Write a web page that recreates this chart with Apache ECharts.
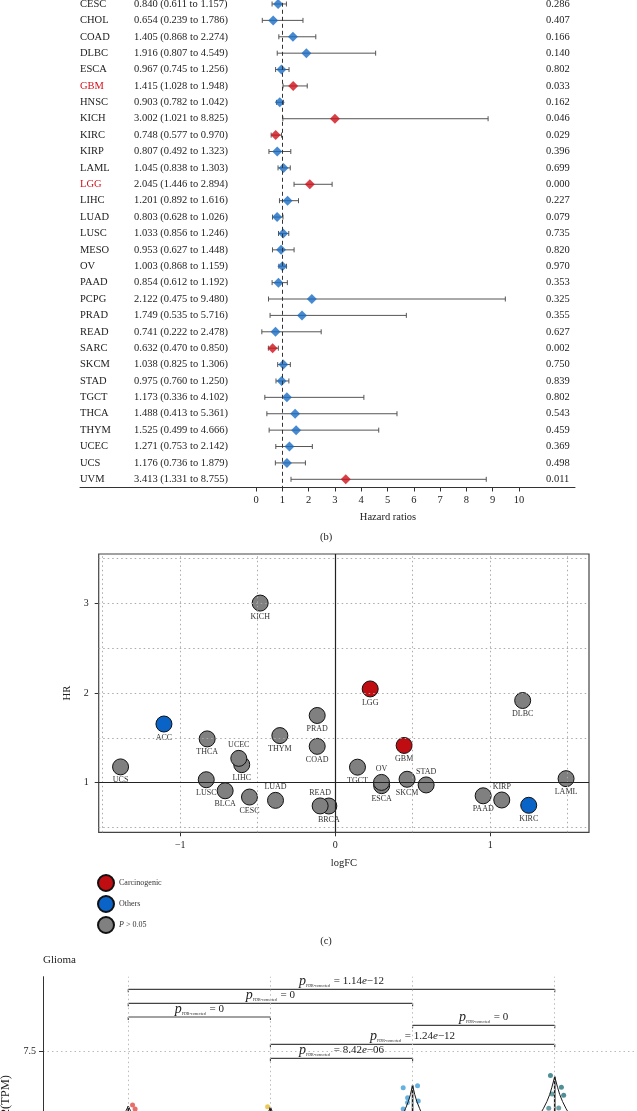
<!DOCTYPE html>
<html>
<head>
<meta charset="utf-8">
<script src="https://cdn.jsdelivr.net/npm/echarts@6.0.0/dist/echarts.min.js"></script>
<style>
html, body { margin: 0; padding: 0; background: #fff; }
#main { width: 637px; height: 1111px; }
</style>
</head>
<body>
<div id="main"></div>
<script>
// ---- (b) forest plot ----
var cancers = ['CESC', 'CHOL', 'COAD', 'DLBC', 'ESCA', 'GBM', 'HNSC', 'KICH', 'KIRC', 'KIRP',
	'LAML', 'LGG', 'LIHC', 'LUAD', 'LUSC', 'MESO', 'OV', 'PAAD', 'PCPG', 'PRAD',
	'READ', 'SARC', 'SKCM', 'STAD', 'TGCT', 'THCA', 'THYM', 'UCEC', 'UCS', 'UVM'];
var hr = [0.840, 0.654, 1.405, 1.916, 0.967, 1.415, 0.903, 3.002, 0.748, 0.807,
	1.045, 2.045, 1.201, 0.803, 1.033, 0.953, 1.003, 0.854, 2.122, 1.749,
	0.741, 0.632, 1.038, 0.975, 1.173, 1.488, 1.525, 1.271, 1.176, 3.413];
var hrLow = [0.611, 0.239, 0.868, 0.807, 0.745, 1.028, 0.782, 1.021, 0.577, 0.492,
	0.838, 1.446, 0.892, 0.628, 0.856, 0.627, 0.868, 0.612, 0.475, 0.535,
	0.222, 0.470, 0.825, 0.760, 0.336, 0.413, 0.499, 0.753, 0.736, 1.331];
var hrHigh = [1.157, 1.786, 2.274, 4.549, 1.256, 1.948, 1.042, 8.825, 0.970, 1.323,
	1.303, 2.894, 1.616, 1.026, 1.246, 1.448, 1.159, 1.192, 9.480, 5.716,
	2.478, 0.850, 1.306, 1.250, 4.102, 5.361, 4.666, 2.142, 1.879, 8.755];
var pValues = [0.286, 0.407, 0.166, 0.140, 0.802, 0.033, 0.162, 0.046, 0.029, 0.396,
	0.699, 0.000, 0.227, 0.079, 0.735, 0.820, 0.970, 0.353, 0.325, 0.355,
	0.627, 0.002, 0.750, 0.839, 0.802, 0.543, 0.459, 0.369, 0.498, 0.011];
var redLabels = ['GBM', 'LGG'];
var hrTicks = [0, 1, 2, 3, 4, 5, 6, 7, 8, 9, 10];

// ---- (c) logFC vs HR ----
var scNames = ['ACC', 'BLCA', 'BRCA', 'CESC', 'COAD', 'DLBC', 'ESCA', 'GBM', 'KICH', 'KIRC',
	'KIRP', 'LAML', 'LGG', 'LIHC', 'LUAD', 'LUSC', 'OV', 'PAAD', 'PRAD', 'READ',
	'SKCM', 'STAD', 'TGCT', 'THCA', 'THYM', 'UCEC', 'UCS'];
var scLogFC = [-1.105, -0.71, -0.041, -0.553, -0.116, 1.21, 0.30, 0.445, -0.484, 1.249,
	1.075, 1.49, 0.226, -0.603, -0.385, -0.832, 0.299, 0.955, -0.116, -0.097,
	0.464, 0.587, 0.144, -0.826, -0.357, -0.622, -1.385];
var scHR = [1.654, 0.91, 0.74, 0.840, 1.405, 1.916, 0.967, 1.415, 3.002, 0.748,
	0.807, 1.045, 2.045, 1.201, 0.803, 1.033, 1.003, 0.854, 1.749, 0.741,
	1.038, 0.975, 1.173, 1.488, 1.525, 1.271, 1.176];
var scGroup = ['Others', 'ns', 'ns', 'ns', 'ns', 'ns', 'ns', 'Carcinogenic', 'ns', 'Others',
	'ns', 'ns', 'Carcinogenic', 'ns', 'ns', 'ns', 'ns', 'ns', 'ns', 'ns',
	'ns', 'ns', 'ns', 'ns', 'ns', 'ns', 'ns'];
var labelsAbove = ['UCEC', 'LUAD', 'READ', 'OV', 'STAD', 'KIRP'];
var logfcTicks = [-1, 0, 1];
var hrAxisTicks = [1, 2, 3];
var gridX = [-1.5, -1, -0.5, 0.5, 1, 1.5];
var gridY = [0.5, 1.5, 2, 2.5, 3, 3.5];

// ---- Glioma ----
var groupPos = [0, 1, 2, 3];
var groupColors = ['#e4554d', '#e9c13a', '#4ba3d9', '#2f7c84'];
var violinLevels = [
	[5.97, 5.85, 5.6, 5.3],
	[5.94, 5.8, 5.5, 5.2],
	[6.56, 6.3, 6.1, 5.9, 5.7, 5.5],
	[6.80, 6.5, 6.3, 6.1, 5.9, 5.7, 5.5]
];
var violinHalf = [
	[0, 0.015, 0.04, 0.08],
	[0, 0.015, 0.04, 0.08],
	[0, 0.015, 0.03, 0.05, 0.07, 0.1],
	[0, 0.02, 0.035, 0.055, 0.08, 0.11, 0.14]
];
var pointGroup = [0, 0, 1, 2, 2, 2, 2, 2, 2, 3, 3, 3, 3, 3, 3];
var pointJitter = [0.03, 0.048, -0.02, -0.066, 0.035, -0.035, 0.04, -0.035, -0.066, -0.03, 0.047, -0.018, 0.063, -0.042, 0.028];
var pointValue = [6.0, 5.89, 5.955, 6.49, 6.545, 6.21, 6.115, 6.07, 5.89, 6.83, 6.5, 6.31, 6.28, 5.91, 5.92];
var bracketFrom = [0, 0, 0, 2, 1, 1];
var bracketTo = [3, 2, 1, 3, 3, 2];
var bracketY = [9.253, 8.86, 8.475, 8.242, 7.708, 7.315];
var bracketP = ['1.14e-12', '0', '0', '0', '1.24e-12', '8.42e-06'];
var exprTicks = [2.5, 5, 7.5];

var serif = '"Liberation Serif", "DejaVu Serif", serif';
var RED = '#d0121b';
var BLUE = '#1a6dc4';
var GRAY = '#808080';

var chart = echarts.init( document.getElementById( 'main' ), null, {renderer: 'canvas'} );

var scatterSeries = function(groupName, color){
	var data = [];
	for( var i = 0; i < scNames.length; i++ ){
		if( scGroup[i] !== groupName ) continue;
		var above = labelsAbove.indexOf( scNames[i] ) >= 0;
		data.push( {
			name: scNames[i],
			value: [scLogFC[i], scHR[i]],
			label: {position: above ? 'top' : 'bottom'}
		} );
	}
	return {
		name: groupName === 'ns' ? 'P > 0.05' : groupName,
		type: 'scatter',
		xAxisIndex: 1,
		yAxisIndex: 2,
		symbolSize: 16,
		z: 3,
		itemStyle: {color: color, borderColor: '#111', borderWidth: 1, opacity: 1},
		label: {show: true, formatter: '{b}', fontSize: 8, fontFamily: serif, color: '#333', distance: 1},
		data: data
	};
};

var pRich = function(str){
	var parts = str.split( 'e' );
	var s = '{p|p}{s|FDR-corrected}{t| = ' + parts[0] + '}';
	if( parts.length > 1 ){
		s += '{i|e}{t|' + parts[1].replace( '-', '\u2212' ) + '}';
	}
	return s;
};

var option = {
	backgroundColor: '#fff',
	animation: false,
	title: [
		{text: 'Hazard ratios', left: 388, top: 512, textAlign: 'center', padding: 0,
			textStyle: {fontSize: 10.5, fontWeight: 'normal', fontFamily: serif, color: '#222'}},
		{text: '(b)', left: 326, top: 532, textAlign: 'center', padding: 0,
			textStyle: {fontSize: 10.5, fontWeight: 'normal', fontFamily: serif, color: '#222'}},
		{text: '(c)', left: 326, top: 936, textAlign: 'center', padding: 0,
			textStyle: {fontSize: 10.5, fontWeight: 'normal', fontFamily: serif, color: '#222'}},
		{text: 'Glioma', left: 43, top: 955, padding: 0,
			textStyle: {fontSize: 11, fontWeight: 'normal', fontFamily: serif, color: '#222'}}
	],
	legend: {
		data: ['Carcinogenic', 'Others', 'P > 0.05'],
		orient: 'vertical',
		left: 97,
		top: 874,
		padding: 0,
		itemWidth: 16,
		itemHeight: 16,
		itemGap: 3,
		icon: 'circle',
		formatter: function(name){
			return name === 'P > 0.05' ? '{i|P} > 0.05' : name;
		},
		textStyle: {fontSize: 8, fontFamily: serif, color: '#333',
			rich: {i: {fontStyle: 'italic', fontSize: 8, fontFamily: serif, color: '#333'}}}
	},
	grid: [
		{left: 80, right: 62, top: -4.2, height: 491.7, outerBoundsMode: 'none'},
		{left: 98.7, right: 48, top: 554, height: 278.3, show: true, borderColor: '#444', borderWidth: 1.2,
			backgroundColor: 'transparent', outerBoundsMode: 'none'},
		{left: 43, width: 597, top: 976.7, height: 253, outerBoundsMode: 'none'}
	],
	xAxis: [
		{
			gridIndex: 0, type: 'value', min: -6.692, max: 12.129,
			axisLine: {show: true, onZero: false, lineStyle: {color: '#333', width: 1}},
			axisTick: {show: true, customValues: hrTicks, length: 4, lineStyle: {color: '#333'}},
			axisLabel: {customValues: hrTicks, fontSize: 10.5, fontFamily: serif, color: '#222', margin: 7},
			splitLine: {show: false}
		},
		{
			gridIndex: 1, type: 'value', min: -1.526, max: 1.638,
			name: 'logFC', nameLocation: 'middle', nameGap: 25,
			nameTextStyle: {fontSize: 10.5, fontFamily: serif, color: '#222'},
			axisLine: {show: false, onZero: false},
			axisTick: {show: true, customValues: logfcTicks, length: 4, lineStyle: {color: '#333'}},
			axisLabel: {customValues: logfcTicks, fontSize: 10, fontFamily: serif, color: '#222', margin: 8,
				formatter: function(v){ return v < 0 ? '\u2212' + Math.abs( v ) : String( v ); }},
			splitLine: {show: false}
		},
		{
			gridIndex: 2, type: 'value', min: -0.6, max: 3.6,
			axisLine: {show: false, onZero: false},
			axisTick: {show: false},
			axisLabel: {show: false},
			splitLine: {show: false}
		}
	],
	yAxis: [
		{
			gridIndex: 0, type: 'category', data: cancers, inverse: true,
			axisLine: {show: false, onZero: false},
			axisTick: {show: false},
			axisLabel: {
				inside: true, margin: 0, interval: 0, align: 'left',
				formatter: function(v, i){
					var tag = redLabels.indexOf( v ) >= 0 ? 'r' : 'n';
					var txt = hr[i].toFixed( 3 ) + ' (' + hrLow[i].toFixed( 3 ) + ' to ' + hrHigh[i].toFixed( 3 ) + ')';
					return '{' + tag + '|' + v + '}{h|' + txt + '}';
				},
				rich: {
					n: {width: 54, fontSize: 10.5, fontFamily: serif, color: '#222'},
					r: {width: 54, fontSize: 10.5, fontFamily: serif, color: RED},
					h: {fontSize: 10.5, fontFamily: serif, color: '#222'}
				}
			},
			splitLine: {show: false}
		},
		{
			gridIndex: 0, type: 'category', position: 'right', inverse: true,
			data: pValues.map( function(p){ return p.toFixed( 3 ); } ),
			axisLine: {show: false, onZero: false},
			axisTick: {show: false},
			axisLabel: {inside: true, margin: 29, align: 'left', interval: 0,
				fontSize: 10.5, fontFamily: serif, color: '#222'},
			splitLine: {show: false}
		},
		{
			gridIndex: 1, type: 'value', min: 0.447, max: 3.549,
			name: 'HR', nameLocation: 'middle', nameGap: 21,
			nameTextStyle: {fontSize: 10.5, fontFamily: serif, color: '#222'},
			axisLine: {show: false, onZero: false},
			axisTick: {show: true, customValues: hrAxisTicks, length: 4, lineStyle: {color: '#333'}},
			axisLabel: {customValues: hrAxisTicks, fontSize: 10, fontFamily: serif, color: '#222', margin: 10},
			splitLine: {show: false}
		},
		{
			gridIndex: 2, type: 'value', min: 2.5, max: 9.607, interval: 1.25,
			name: 'log2(TPM)', nameLocation: 'middle', nameGap: 29,
			nameTextStyle: {fontSize: 12.5, fontFamily: serif, color: '#222'},
			axisLine: {show: true, onZero: false, lineStyle: {color: '#333', width: 1}},
			axisTick: {show: true, customValues: exprTicks, length: 4, lineStyle: {color: '#333'}},
			axisLabel: {customValues: exprTicks, fontSize: 10, fontFamily: serif, color: '#222', margin: 7},
			splitLine: {show: true, lineStyle: {color: '#bbb', type: [1.5, 3], width: 1}}
		}
	],
	series: [
		// forest: reference line at HR = 1
		{
			type: 'scatter', xAxisIndex: 0, yAxisIndex: 0, data: [], z: 1,
			markLine: {
				silent: true, symbol: 'none', label: {show: false},
				lineStyle: {color: '#333', type: [4, 3], width: 1},
				data: [{xAxis: 1}]
			}
		},
		// forest: confidence intervals
		{
			type: 'custom', xAxisIndex: 0, yAxisIndex: 0, z: 2,
			encode: {x: [0, 1], y: 2},
			data: cancers.map( function(c, i){ return [hrLow[i], hrHigh[i], i]; } ),
			renderItem: function(params, api){
				var lo = api.coord( [api.value( 0 ), api.value( 2 )] );
				var hi = api.coord( [api.value( 1 ), api.value( 2 )] );
				var h = 2.5;
				var st = {stroke: '#555', lineWidth: 1};
				return {type: 'group', children: [
					{type: 'line', shape: {x1: lo[0], y1: lo[1], x2: hi[0], y2: hi[1]}, style: st},
					{type: 'line', shape: {x1: lo[0], y1: lo[1] - h, x2: lo[0], y2: lo[1] + h}, style: st},
					{type: 'line', shape: {x1: hi[0], y1: hi[1] - h, x2: hi[0], y2: hi[1] + h}, style: st}
				]};
			}
		},
		// forest: hazard ratio diamonds
		{
			type: 'scatter', xAxisIndex: 0, yAxisIndex: 0, z: 3,
			symbol: 'diamond', symbolSize: 10,
			data: cancers.map( function(c, i){
				return {value: [hr[i], i], itemStyle: {color: pValues[i] < 0.05 ? RED : BLUE}};
			} )
		},
		// scatter: grid lines
		{
			type: 'scatter', xAxisIndex: 1, yAxisIndex: 2, data: [], z: 1,
			markLine: {
				silent: true, symbol: 'none', label: {show: false},
				lineStyle: {color: '#aaa', type: [1.5, 3], width: 1},
				data: gridX.map( function(v){ return {xAxis: v}; } )
					.concat( gridY.map( function(v){ return {yAxis: v}; } ) )
					.concat( [
						{xAxis: 0, lineStyle: {color: '#222', type: 'solid', width: 1.2}},
						{yAxis: 1, lineStyle: {color: '#222', type: 'solid', width: 1.2}}
					] )
			}
		},
		scatterSeries( 'ns', GRAY ),
		scatterSeries( 'Others', '#0a64c8' ),
		scatterSeries( 'Carcinogenic', '#c00d12' ),
		// glioma: vertical grid lines at groups
		{
			type: 'scatter', xAxisIndex: 2, yAxisIndex: 3, data: [], z: 1,
			markLine: {
				silent: true, symbol: 'none', label: {show: false},
				lineStyle: {color: '#bbb', type: [1.5, 3], width: 1},
				data: groupPos.map( function(v){ return {xAxis: v}; } )
			}
		},
		// glioma: violins
		{
			type: 'custom', xAxisIndex: 2, yAxisIndex: 3, z: 3,
			data: groupPos.map( function(g){ return [g, violinLevels[g][0]]; } ),
			renderItem: function(params, api){
				var g = params.dataIndex;
				var lv = violinLevels[g], hw = violinHalf[g];
				var right = [], left = [];
				for( var k = 0; k < lv.length; k++ ){
					right.push( api.coord( [g + hw[k], lv[k]] ) );
					left.push( api.coord( [g - hw[k], lv[k]] ) );
				}
				var pts = right.concat( left.reverse() );
				var top = api.coord( [g, lv[0]] );
				var bot = api.coord( [g, lv[lv.length - 1]] );
				return {type: 'group', children: [
					{type: 'polygon', shape: {points: pts}, style: {fill: 'rgba(255,255,255,0.15)', stroke: '#1a1a1a', lineWidth: 1}},
					{type: 'line', shape: {x1: top[0], y1: top[1], x2: bot[0], y2: bot[1]}, style: {stroke: '#1a1a1a', lineWidth: 1.6}}
				]};
			}
		},
		// glioma: jittered points
		{
			type: 'scatter', xAxisIndex: 2, yAxisIndex: 3, z: 2, symbolSize: 5,
			data: pointValue.map( function(v, i){
				return {value: [pointGroup[i] + pointJitter[i], v],
					itemStyle: {color: groupColors[pointGroup[i]], opacity: 0.85}};
			} )
		},
		// glioma: pairwise comparison brackets
		{
			type: 'custom', xAxisIndex: 2, yAxisIndex: 3, z: 4,
			encode: {x: [0, 1], y: 2},
			data: bracketY.map( function(y, i){ return [bracketFrom[i], bracketTo[i], y]; } ),
			renderItem: function(params, api){
				var a = api.coord( [api.value( 0 ), api.value( 2 )] );
				var b = api.coord( [api.value( 1 ), api.value( 2 )] );
				var st = {stroke: '#444', lineWidth: 1.2};
				var tick = 3;
				return {type: 'group', children: [
					{type: 'line', shape: {x1: a[0], y1: a[1], x2: b[0], y2: b[1]}, style: st},
					{type: 'line', shape: {x1: a[0], y1: a[1], x2: a[0], y2: a[1] + tick}, style: st},
					{type: 'line', shape: {x1: b[0], y1: b[1], x2: b[0], y2: b[1] + tick}, style: st},
					{type: 'text', style: {
						text: pRich( bracketP[params.dataIndex] ),
						x: (a[0] + b[0]) / 2, y: a[1] - 1,
						align: 'center', verticalAlign: 'bottom',
						rich: {
							p: {fontSize: 14, fontStyle: 'italic', fontFamily: serif, fill: '#222', lineHeight: 14},
							s: {fontSize: 4, fontFamily: serif, fill: '#222', lineHeight: 14, verticalAlign: 'bottom', padding: [0, 1, 0, 0]},
							t: {fontSize: 11, fontFamily: serif, fill: '#222', lineHeight: 14},
							i: {fontSize: 11, fontStyle: 'italic', fontFamily: serif, fill: '#222', lineHeight: 14}
						}
					}}
				]};
			}
		}
	]
};

chart.setOption( option );
</script>
</body>
</html>
